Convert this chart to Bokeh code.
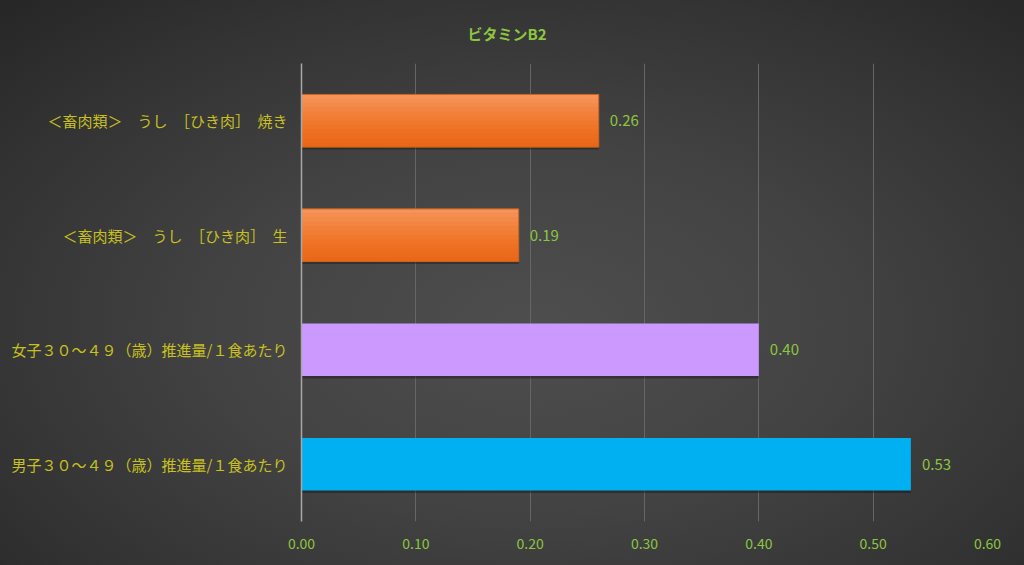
from bokeh.plotting import figure
from bokeh.models import ColumnDataSource, FactorRange, NumeralTickFormatter, FixedTicker
from bokeh.transform import dodge
from bokeh.embed import file_html
from bokeh.resources import INLINE
from bokeh.core.properties import value

title_text = "ビタミンB2"
categories = [
    "男子３０～４９（歳）推進量/１食あたり",
    "女子３０～４９（歳）推進量/１食あたり",
    "＜畜肉類＞　うし　［ひき肉］　生",
    "＜畜肉類＞　うし　［ひき肉］　焼き",
]
values = [0.533, 0.40, 0.19, 0.26]
labels = ["0.53", "0.40", "0.19", "0.26"]
colors = ["#00b0f0", "#cc99ff", "#ee7726", "#ee7726"]
gradient_bars = [False, False, True, True]
x_ticks = [0.0, 0.1, 0.2, 0.3, 0.4, 0.5, 0.6]

FONT = "Noto Sans CJK JP"
BAR_H = 0.46

src = ColumnDataSource(dict(cat=categories, val=values, lab=labels, col=colors))

p = figure(
    y_range=FactorRange(*categories, range_padding=0),
    x_range=(0, 0.6),
    width=1024, height=565,
    output_backend="svg", toolbar_location=None,
    min_border_left=301, min_border_right=37,
    min_border_top=63, min_border_bottom=44,
    background_fill_color=None, border_fill_color=None,
    outline_line_color=None,
)
p.y_range.range_padding = 0
p.y_range.factor_padding = 0

p.title.text = title_text
p.title.align = "left"
p.title.text_color = "#8cc63f"
p.title.text_font = FONT
p.title.text_font_size = "15px"
p.title.text_font_style = "bold"
p.title.offset = 166
p.title.standoff = 40

# shadow
p.hbar(y=dodge("cat", -0.022, range=p.y_range), right="val", left=0,
       height=BAR_H, source=src, fill_color="#111111", fill_alpha=0.4,
       line_color=None)
p.hbar(y="cat", right="val", left=0, height=BAR_H, source=src,
       fill_color="col", line_color=None)

# vertical gradient overlay for the orange bars
g_cat = [c for c, g in zip(categories, gradient_bars) if g]
g_val = [v for v, g in zip(values, gradient_bars) if g]
g_src = ColumnDataSource(dict(cat=g_cat, val=g_val))
band_colors = ["#f5935a", "#f48f52", "#f38a4a", "#f38542", "#f2803b",
               "#f17c34", "#f0782d", "#ef7427", "#ee7022", "#ec6d1e",
               "#eb6a1b", "#e96818"]
n = len(band_colors)
for i, bc in enumerate(band_colors):
    off = BAR_H / 2 - (i + 0.5) * BAR_H / n
    p.hbar(y=dodge("cat", off, range=p.y_range), right="val", left=0,
           height=BAR_H / n + 0.002, source=g_src, fill_color=bc, line_color=None)
p.hbar(y="cat", right="val", left=0, height=BAR_H, source=g_src,
       fill_color=None, line_color="#c8601e", line_width=1)

p.text(x="val", y="cat", text="lab", source=src, x_offset=11,
       text_align="left", text_baseline="middle",
       text_color="#8cc63f", text_font=value(FONT), text_font_size="15px")

p.xaxis.ticker = FixedTicker(ticks=x_ticks)
p.xaxis.formatter = NumeralTickFormatter(format="0.00")
p.xaxis.axis_line_color = None
p.xaxis.major_tick_line_color = None
p.xaxis.minor_tick_line_color = None
p.xaxis.major_label_text_color = "#8cc63f"
p.xaxis.major_label_text_font = FONT
p.xaxis.major_label_text_font_size = "14px"
p.xaxis.major_label_standoff = 10

p.yaxis.axis_line_color = "#a8a8a8"
p.yaxis.axis_line_width = 1.5
p.yaxis.major_tick_line_color = None
p.yaxis.minor_tick_line_color = None
p.yaxis.major_label_text_color = "#c8c01e"
p.yaxis.major_label_text_font = FONT
p.yaxis.major_label_text_font_size = "15px"
p.yaxis.major_label_standoff = 8

p.xgrid.grid_line_color = "#666666"
p.xgrid.grid_line_width = 1
p.ygrid.grid_line_color = None

html = file_html(p, INLINE)
css = ("<style>html,body{background:#2a2a2a radial-gradient(ellipse 75% 80% at 52% 58%,"
       " #4e4e4e 0%, #434343 40%, #333333 75%, #262626 100%) no-repeat;"
       " min-height:565px;}</style>")
html = html.replace("<head>", "<head>" + css, 1)
open("out.html", "w").write(html)
